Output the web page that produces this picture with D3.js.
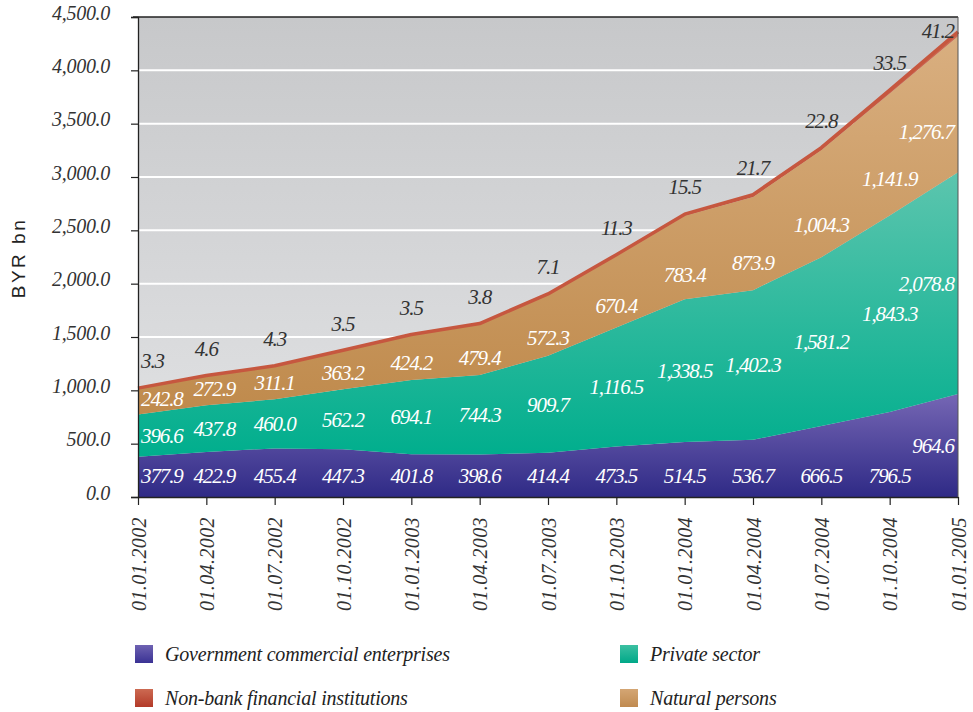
<!DOCTYPE html>
<html><head><meta charset="utf-8">
<script src="https://cdn.jsdelivr.net/npm/d3@7"></script>
<style>
html,body{margin:0;padding:0;background:#fff;}
svg{display:block;}
</style></head>
<body>
<svg id="chart" width="973" height="712"></svg>
<script>
const dates = ["01.01.2002","01.04.2002","01.07.2002","01.10.2002","01.01.2003","01.04.2003","01.07.2003","01.10.2003","01.01.2004","01.04.2004","01.07.2004","01.10.2004","01.01.2005"];
const government = [377.9,422.9,455.4,447.3,401.8,398.6,414.4,473.5,514.5,536.7,666.5,796.5,964.6];
const privateSector = [396.6,437.8,460.0,562.2,694.1,744.3,909.7,1116.5,1338.5,1402.3,1581.2,1843.3,2078.8];
const naturalPersons = [242.8,272.9,311.1,363.2,424.2,479.4,572.3,670.4,783.4,873.9,1004.3,1141.9,1276.7];
const nonBank = [3.3,4.6,4.3,3.5,3.5,3.8,7.1,11.3,15.5,21.7,22.8,33.5,41.2];
const yTicks = [0,500,1000,1500,2000,2500,3000,3500,4000,4500];
const seriesNames = ["Government commercial enterprises","Private sector","Natural persons","Non-bank financial institutions"];
const yTitle = "BYR bn";

const SERIF = "'Liberation Serif','Times New Roman','DejaVu Serif',serif";
const svg = d3.select("#chart");
const L = 138, R = 958, T = 17, B = 497;
const x = d3.scalePoint().domain(dates).range([L, R]);
const y = d3.scaleLinear().domain([0, 4500]).range([B, T]);

const defs = svg.append("defs");
function grad(id, c1, c2){
  const g = defs.append("linearGradient").attr("id", id).attr("x1",0).attr("y1",0).attr("x2",0).attr("y2",1);
  g.append("stop").attr("offset","0%").attr("stop-color",c1);
  g.append("stop").attr("offset","100%").attr("stop-color",c2);
}
grad("gBg", "#c7c8ca", "#e3e4e6");
grad("gGov", "#7566b4", "#2f2a86");
grad("gPriv", "#5cc5ae", "#00ae8d");
grad("gNat", "#d9af80", "#bf8a4c");
grad("gNbf", "#cc6a52", "#b23a26");
grad("lGov", "#6e62b2", "#3a3294");
grad("lPriv", "#3cc0a2", "#00a888");
grad("lNat", "#d4a674", "#c08a50");
grad("lNbf", "#cc6a52", "#b33a28");

svg.append("rect").attr("x", L).attr("y", T).attr("width", R - L).attr("height", B - T).attr("fill", "url(#gBg)");
svg.append("g").selectAll("line").data(yTicks.filter(v => v > 0 && v < 4500)).join("line")
  .attr("x1", L).attr("x2", R).attr("y1", d => y(d)).attr("y2", d => y(d))
  .attr("stroke", "#fff").attr("stroke-width", 2);

const keys = ["gov","priv","nat","nbf"];
const table = dates.map((d, i) => ({date: d, gov: government[i], priv: privateSector[i], nat: naturalPersons[i], nbf: nonBank[i]}));
const stacked = d3.stack().keys(keys)(table);
const area = d3.area().x(d => x(d.data.date)).y0(d => y(d[0])).y1(d => y(d[1]));
const fills = {gov: "url(#gGov)", priv: "url(#gPriv)", nat: "url(#gNat)", nbf: "url(#gNbf)"};
svg.append("g").selectAll("path").data(stacked).join("path")
  .attr("d", area).attr("fill", d => fills[d.key]);
const topLine = d3.line().x(d => x(d.data.date)).y(d => y(d[1]));
svg.append("path").datum(stacked[3]).attr("d", topLine)
  .attr("fill", "none").attr("stroke", "#c6573f").attr("stroke-width", 3.5).attr("stroke-linejoin", "round");

const yAxis = d3.axisLeft(y).tickValues(yTicks).tickSize(7).tickFormat(d3.format(",.1f"));
const gy = svg.append("g").attr("transform", `translate(${L},0)`).call(yAxis);
gy.attr("font-family", null).attr("font-size", null);
gy.select(".domain").attr("stroke", "#222").attr("stroke-width", 1.3);
gy.selectAll(".tick line").attr("stroke", "#222").attr("stroke-width", 1.2);
gy.selectAll(".tick text").style("font-family", SERIF).style("font-style", "italic").style("font-size", "20px")
  .attr("fill", "#333").attr("x", -28).attr("dy", "0.1em").style("letter-spacing", "-0.3px");

const xAxis = d3.axisBottom(x).tickSize(8).tickSizeOuter(0);
const gx = svg.append("g").attr("transform", `translate(0,${B})`).call(xAxis);
gx.attr("font-family", null).attr("font-size", null);
gx.select(".domain").attr("stroke", "#222").attr("stroke-width", 1.3);
gx.selectAll(".tick line").attr("stroke", "#222").attr("stroke-width", 1.2);
gx.selectAll(".tick text").style("font-family", SERIF).style("font-style", "italic").style("font-size", "20px")
  .attr("fill", "#333")
  .attr("transform", "rotate(-90)").attr("text-anchor", "end")
  .attr("x", -20).attr("y", 0).attr("dy", "0.35em").style("letter-spacing", "0.4px");

svg.append("line").attr("x1", L - 5).attr("x2", R).attr("y1", T).attr("y2", T).attr("stroke", "#222").attr("stroke-width", 1.3);
svg.append("line").attr("x1", R).attr("x2", R).attr("y1", T).attr("y2", B).attr("stroke", "#555").attr("stroke-width", 1);

svg.append("text").attr("transform", `translate(25,258) rotate(-90)`).attr("text-anchor", "middle")
  .style("font-family", "'Liberation Sans', Arial, sans-serif").style("font-size", "19px").attr("fill", "#222")
  .style("letter-spacing", "2.5px").text(yTitle);

const fmt = d3.format(",.1f");
const lblG = svg.append("g").style("font-family", SERIF).style("font-style", "italic")
  .style("font-size", "21px").style("letter-spacing", "-1.1px");
function place(txt, cx, cy, color){
  const t = lblG.append("text").attr("x", cx).attr("y", cy).attr("dy", "0.35em").attr("text-anchor", "middle")
    .attr("fill", color).text(txt);
  const w = t.node().getComputedTextLength();
  const nx = Math.max(L + w/2 + 3, Math.min(R - w/2 - 4, cx));
  t.attr("x", nx);
}
stacked.forEach(s => {
  s.forEach((d, i) => {
    const cx = x(d.data.date) + (i === 1 && s.key !== "nbf" ? 8 : 0);
    const y0 = y(d[0]), y1 = y(d[1]); const h = y0 - y1;
    const v = d[1] - d[0];
    let cy;
    if (s.key === "gov") cy = h > 95 ? y0 - h/2 : y0 - 21;
    else if (s.key === "priv") cy = y0 - h/2;
    else if (s.key === "nat") cy = y0 - Math.max(0.3*h, Math.min(0.6*h, 17));
    else cy = Math.max(y1 - 27, 31);
    place(fmt(v), cx, cy, s.key === "nbf" ? "#333" : "#fff");
  });
});

const legendItems = [
  {name: seriesNames[0], fill: "url(#lGov)", x: 135, y: 645},
  {name: seriesNames[1], fill: "url(#lPriv)", x: 620, y: 645},
  {name: seriesNames[3], fill: "url(#lNbf)", x: 135, y: 689},
  {name: seriesNames[2], fill: "url(#lNat)", x: 620, y: 689}
];
const lg = svg.append("g").selectAll("g").data(legendItems).join("g").attr("transform", d => `translate(${d.x},${d.y})`);
lg.append("rect").attr("width", 18).attr("height", 18).attr("fill", d => d.fill);
lg.append("text").attr("x", 30).attr("y", 9).attr("dy", "0.35em")
  .style("font-family", SERIF).style("font-style", "italic").style("font-size", "20px")
  .attr("fill", "#222").style("letter-spacing", "-0.2px").text(d => d.name);
</script>
</body></html>
